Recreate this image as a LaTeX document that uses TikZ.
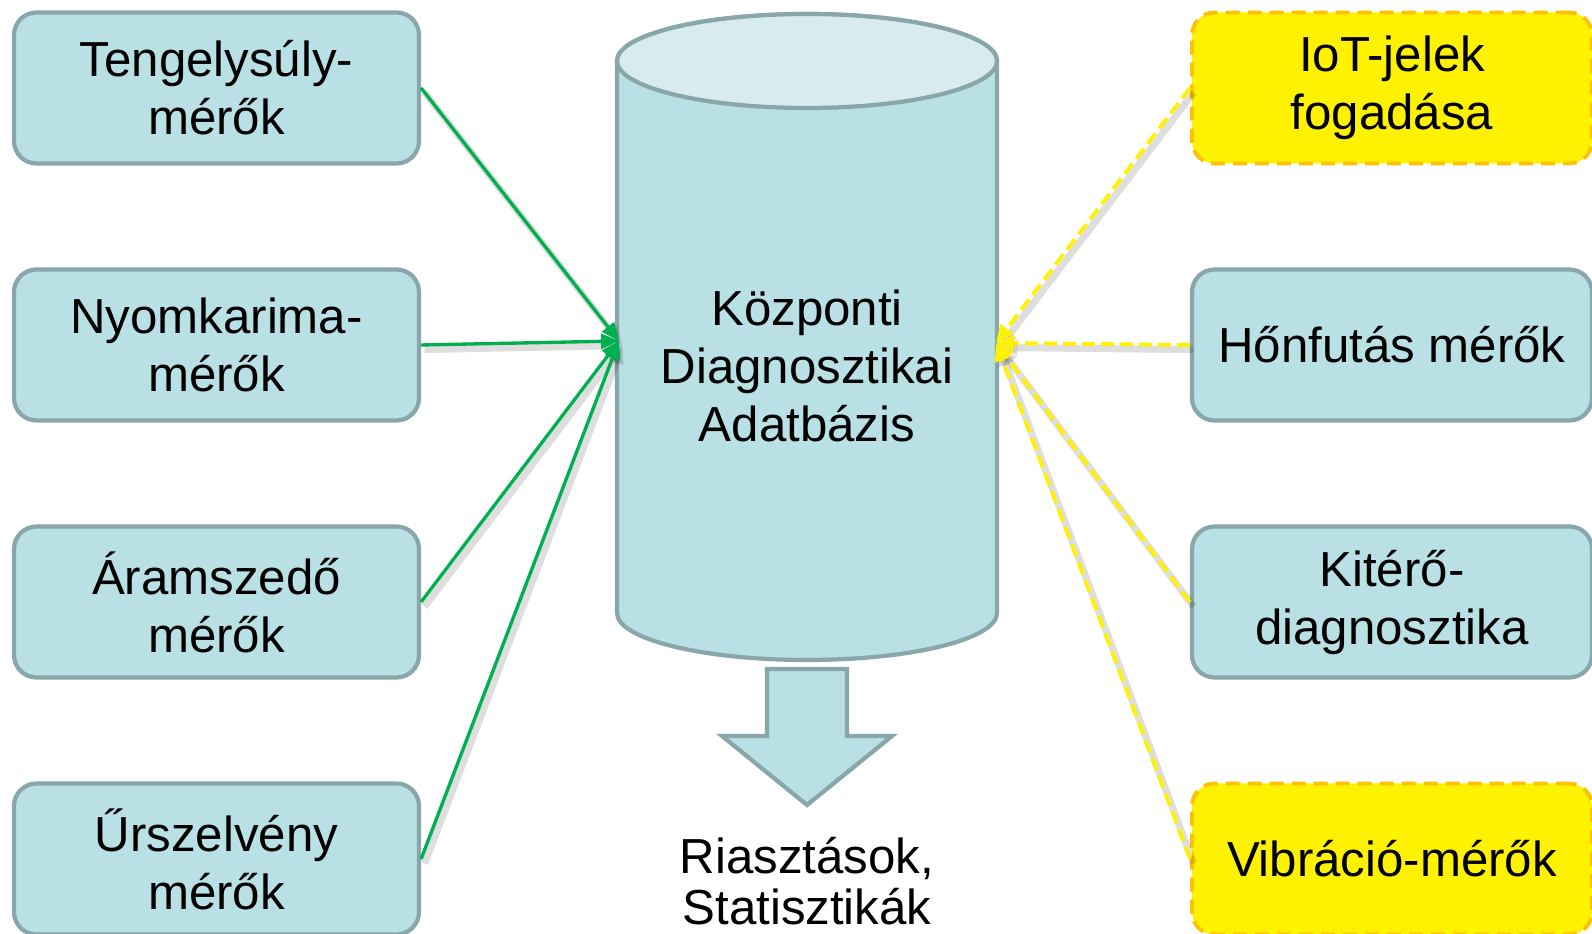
\documentclass[tikz,border=0pt]{standalone}
\usepackage{fontspec}
\setmainfont{Liberation Sans}
\usetikzlibrary{arrows.meta,positioning}

\definecolor{dbfill}{HTML}{B9E0E4}
\definecolor{dbtop}{HTML}{D8ECEF}
\definecolor{dbline}{HTML}{89A6A8}
\definecolor{sensgreen}{HTML}{00B050}
\definecolor{iotorange}{HTML}{FFC000}

\tikzset{
  mbox/.style={draw=dbline, fill=dbfill, line width=2.4pt, rounded corners=0.45cm,
    minimum width=8.1cm, minimum height=3.02cm, align=center,
    font=\fontsize{28}{33}\selectfont},
  iotbox/.style={mbox, draw=iotorange, fill=yellow, line width=2.2pt,
    dash pattern=on 0.28cm off 0.16cm},
  shadowed/.style={preaction={draw=black, solid, opacity=0.13, line width=4pt,
    transform canvas={xshift=2pt,yshift=-2.6pt}}},
  greenarr/.style={shadowed, draw=sensgreen, line width=1.9pt,
    -{Triangle[length=0.36cm,width=0.3cm]}},
  yellarr/.style={shadowed, draw=yellow, line width=2.2pt,
    dash pattern=on 0.26cm off 0.12cm, -{Triangle[length=0.36cm,width=0.3cm]}}
}

\begin{document}
\begin{tikzpicture}
  \useasboundingbox (0,0) rectangle (31.84,18.68);

  % central database
  \draw[dbline, fill=dbfill, line width=2.4pt]
    (12.34,17.46) -- (12.34,6.42)
    arc[start angle=180, end angle=360, x radius=3.8, y radius=0.94]
    -- (19.94,17.46)
    arc[start angle=0, end angle=180, x radius=3.8, y radius=0.94] -- cycle;
  \draw[dbline, fill=dbtop, line width=2.4pt]
    (16.14,17.46) ellipse[x radius=3.8, y radius=0.94];
  \node[align=center, font=\fontsize{28}{33}\selectfont] (kozp) at (16.14,11.36)
    {Központi\\Diagnosztikai\\Adatbázis};
  \coordinate (dbL) at (12.38,11.86);
  \coordinate (dbR) at (19.92,11.82);

  % output arrow
  \draw[dbline, fill=dbfill, line width=2.4pt]
    (15.34,5.30) -- (16.94,5.30) -- (16.94,3.96) -- (17.84,3.96) --
    (16.14,2.58) -- (14.44,3.96) -- (15.34,3.96) -- cycle;
  \node[align=center, font=\fontsize{28}{29}\selectfont] (riaszt) at (16.14,1.06)
    {Riasztások,\\Statisztikák};

  % sensors
  \node[mbox] (tengely) at (4.33,16.92) {Tengelysúly-\\mérők};
  \node[mbox] (nyomk) at (4.33,11.78) {Nyomkarima-\\mérők};
  \node[mbox] (aram) at (4.33,6.64) {Áramszedő\\mérők};
  \node[mbox] (ursz) at (4.33,1.50) {Űrszelvény\\mérők};

  \node[iotbox, minimum width=8.0cm] (iot) at (27.84,16.92) {IoT-jelek\\fogadása};
  \node[mbox, minimum width=8.0cm] (honf) at (27.84,11.78) {Hőnfutás mérők};
  \node[mbox, minimum width=8.0cm] (kiter) at (27.84,6.64) {Kitérő-\\diagnosztika};
  \node[iotbox, minimum width=8.0cm] (vibr) at (27.84,1.50) {Vibráció-mérők};

  \draw[greenarr] (tengely.east) -- (dbL);
  \draw[greenarr] (nyomk.east) -- (dbL);
  \draw[greenarr] (aram.east) -- (dbL);
  \draw[greenarr] (ursz.east) -- (dbL);

  \draw[yellarr] (iot.west) -- (dbR);
  \draw[yellarr] (honf.west) -- (dbR);
  \draw[yellarr] (kiter.west) -- (dbR);
  \draw[yellarr] (vibr.west) -- (dbR);
\end{tikzpicture}
\end{document}
